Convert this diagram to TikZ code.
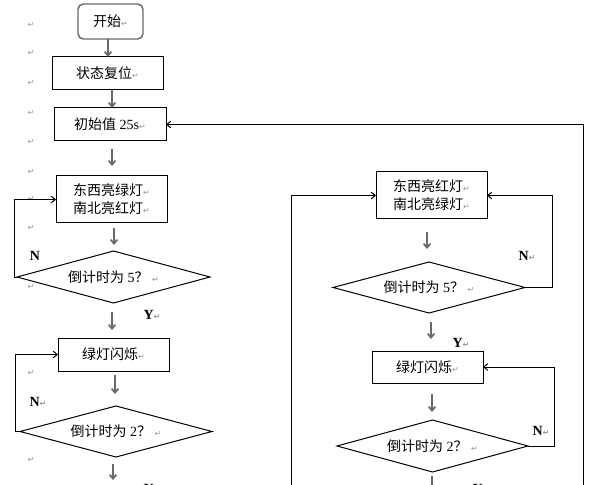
\documentclass[tikz,border=0pt]{standalone}
\usepackage{fontspec}
\setmainfont{Liberation Serif}
\newfontfamily\cjk{Noto Sans CJK SC}
\newfontfamily\dvs{DejaVu Sans}
\usetikzlibrary{shapes.geometric,arrows.meta}
\newdimen\pxu \pxu=0.75pt
\definecolor{retgray}{RGB}{150,150,150}
\definecolor{arrgray}{RGB}{105,105,105}
\newcommand{\retmk}{{\dvs\fontsize{6pt}{6pt}\selectfont\textcolor{retgray}{↵}}}
\tikzset{
  box/.style={draw, line width=0.75pt, minimum height=33\pxu, minimum width=111\pxu, inner sep=0pt, outer sep=0pt, align=center},
  startbox/.style={draw=arrgray, rounded corners=4pt, line width=1.1pt, inner sep=0pt, outer sep=0pt, minimum width=65\pxu, minimum height=35\pxu},
  dec/.style={diamond, aspect=3.7, draw, line width=0.75pt, inner sep=0pt, outer sep=0pt, minimum width=192\pxu, minimum height=52\pxu},
  garrow/.style={draw=arrgray, line width=1.3pt, -{Straight Barb[length=3pt,width=5pt]}},
  gline/.style={draw=arrgray, line width=1.3pt},
  loopline/.style={draw, line width=0.75pt, -{Straight Barb[length=3pt,width=5pt]}},
  lbl/.style={inner sep=0pt, font=\fontsize{10.5pt}{12pt}\selectfont\bfseries},
  mk/.style={inner sep=0pt}
}
\begin{document}
\begin{tikzpicture}[x=0.75pt,y=-0.75pt,font=\fontsize{10.5pt}{13.5pt}\selectfont]
\fill[white] (0,0) rectangle (590,485);
\useasboundingbox (0,0) rectangle (590,485);

% margin paragraph marks
\foreach \i/\yy in {1/25,2/53,3/83,4/113,5/142,6/172,7/199,8/228,9/287,10/373,11/460}
  \node[mk] (m\i) at (31,\yy) {\retmk};

% nodes
\node[startbox] (start) at (110.5,21.5) {{\cjk 开始}\retmk};
\node[box] (reset) at (107.5,73.5) {{\cjk 状态复位}\retmk};
\node[box, minimum width=112\pxu] (init) at (110,124.5) {{\cjk 初始值} 25s\retmk};
\node[box, minimum height=47\pxu] (ew1) at (111.5,199.5) {{\cjk 东西亮绿灯}\retmk\\{\cjk 南北亮红灯}\retmk};
\node[dec, minimum width=193\pxu] (d1) at (113.5,277) {{\cjk 倒计时为} 5{\cjk ？}\ \retmk};
\node[box] (flash1) at (113.5,354.5) {{\cjk 绿灯闪烁}\retmk};
\node[dec, minimum height=51\pxu] (d2) at (116,431.5) {{\cjk 倒计时为} 2{\cjk ？}\ \retmk};

\node[box, minimum height=47\pxu] (ew2) at (431.5,195.5) {{\cjk 东西亮红灯}\retmk\\{\cjk 南北亮绿灯}\retmk};
\node[dec, minimum height=51\pxu] (d3) at (429,287.5) {{\cjk 倒计时为} 5{\cjk ？}\ \retmk};
\node[box, minimum height=32\pxu] (flash2) at (427.5,367) {{\cjk 绿灯闪烁}\retmk};
\node[dec, minimum width=191\pxu] (d4) at (432.5,446) {{\cjk 倒计时为} 2{\cjk ？}\ \retmk};

\coordinate (bot1) at (113,480);
\coordinate (bot2) at (432,490);
\coordinate (rb) at (583,490);
\coordinate (lb) at (291,490);

% gray flow arrows
\draw[garrow] (108,0 |- start.south) -- (108,0 |- reset.north);
\draw[garrow] (112,0 |- reset.south) -- (112,0 |- init.north);
\draw[garrow, shorten <=8\pxu, shorten >=10\pxu] (112,0 |- init.south) -- (112,0 |- ew1.north);
\draw[garrow, shorten <=5\pxu, shorten >=6\pxu] (114,0 |- ew1.south) -- (114,0 |- d1.north);
\draw[garrow, shorten <=9\pxu, shorten >=8\pxu] (112,0 |- d1.south) -- (112,0 |- flash1.north);
\draw[garrow, shorten <=4\pxu, shorten >=12\pxu] (115,0 |- flash1.south) -- (115,0 |- d2.north);
\draw[garrow, shorten <=7\pxu] (113,0 |- d2.south) -- (bot1);
\draw[garrow, shorten <=13\pxu, shorten >=13\pxu] (427,0 |- ew2.south) -- (427,0 |- d3.north);
\draw[garrow, shorten <=9\pxu, shorten >=12\pxu] (431,0 |- d3.south) -- (431,0 |- flash2.north);
\draw[garrow, shorten <=11\pxu, shorten >=8\pxu] (432,0 |- flash2.south) -- (432,0 |- d4.north);
\draw[gline, shorten <=4\pxu] (432,0 |- d4.south) -- (bot2);

% black loops
\draw[loopline] (rb) |- (init.east);
\draw[loopline] (lb) |- (ew2.west);
\draw[loopline] (d1.west) -- ++(-3,0) |- (ew1.west);
\draw[loopline] (d2.west) -- ++(-5,0) |- (flash1.west);
\draw[loopline] (d3.east) -- ++(27,0) |- (ew2.east);
\draw[loopline] (d4.east) -- ++(26,0) |- (flash2.east);

% labels
\node[lbl] (n1) at (35,256) {N};
\node[lbl] (y1) at (152,315) {Y\retmk};
\node[lbl] (n2) at (38,402) {N\retmk};
\node[lbl] (y2) at (152,489) {Y\retmk};
\node[lbl] (n3) at (527,256) {N\retmk};
\node[lbl] (y3) at (461,343) {Y\retmk};
\node[lbl] (n4) at (541,431) {N\retmk};
\node[lbl] (y4) at (481,489) {Y\retmk};
\end{tikzpicture}
\end{document}
